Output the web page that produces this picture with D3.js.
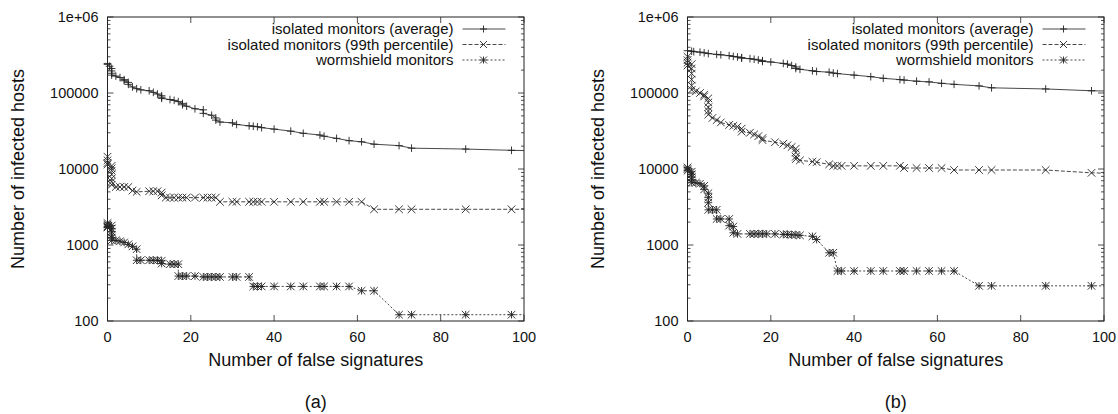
<!DOCTYPE html>
<html>
<head>
<meta charset="utf-8">
<script src="https://cdn.jsdelivr.net/npm/d3@7"></script>
<style>
  body { margin: 0; background: #fff; }
  text { font-family: "Liberation Sans", Arial, Helvetica, sans-serif; fill: #111; }
</style>
</head>
<body>
<svg id="chart" width="1118" height="414"></svg>
<script>
// series values: [false signatures, infected hosts]
var avgA = [[0,245000],[0,238000],[0.5,225000],[1,210000],[1,195000],[1,182000],[1,172000],[2,167000],[3,160000],[4,150000],[4,145000],[5,138000],[5,130000],[6,120000],[7,114000],[8,110000],[10,107000],[11,102000],[12,97000],[13,92000],[13,88000],[13,85000],[15,82000],[16,80000],[17,77000],[18,73000],[18,70000],[19,67000],[21,62000],[23,60000],[23,54000],[25,51000],[26,47000],[26,44000],[27,41500],[30,40500],[31,38500],[34,37000],[35,36500],[36,36000],[37,35000],[40,33500],[44,31500],[47,29500],[51,28000],[52,27000],[55,25300],[58,23600],[61,22800],[64,21200],[70,20300],[73,18800],[86,18300],[97,17600],[105,17300]];
var p99A = [[0,14500],[0,13000],[0,12000],[0,11500],[1,11000],[1,10200],[1,9500],[1,8500],[1,7500],[1,6800],[1,6200],[2,5800],[3,5800],[4,5800],[5,5800],[6,5200],[7,5000],[10,5100],[11,5100],[12,5100],[13,4900],[13,4500],[14,4200],[15,4200],[16,4200],[17,4200],[18,4200],[19,4200],[21,4200],[23,4200],[24,4200],[25,4200],[26,4200],[27,3700],[30,3700],[31,3700],[34,3700],[35,3700],[36,3700],[37,3700],[40,3700],[44,3700],[47,3700],[51,3700],[52,3700],[55,3700],[58,3700],[61,3700],[64,2950],[70,2950],[73,2950],[86,2950],[97,2950],[105,2950]];
var wsA = [[0,1950],[0,1850],[0,1750],[0,1700],[1,1800],[1,1650],[1,1500],[1,1350],[1,1250],[1,1150],[2,1150],[3,1120],[4,1080],[5,1020],[6,960],[7,880],[7,630],[8,630],[10,630],[11,630],[12,630],[13,620],[13,570],[15,560],[16,560],[17,560],[17,390],[18,390],[19,390],[21,390],[23,380],[24,380],[25,380],[26,380],[27,380],[30,380],[31,380],[34,380],[35,285],[36,285],[37,285],[40,285],[44,285],[47,285],[51,285],[52,285],[55,285],[58,285],[61,250],[64,250],[70,121],[73,121],[86,121],[97,121],[105,121]];

var avgB = [[0,360000],[1,355000],[1.5,350000],[3,345000],[4,338000],[5,330000],[7,322000],[8,318000],[10,310000],[11,303000],[12,298000],[13,292000],[13,288000],[15,283000],[16,278000],[17,272000],[18,266000],[18,260000],[20,256000],[23,245000],[24,240000],[25,230000],[26,220000],[26,210000],[27,205000],[30,196000],[31,192000],[34,188000],[35,183000],[36,180000],[40,172000],[44,164000],[47,156000],[51,150000],[52,148000],[55,143000],[58,140000],[61,134000],[64,130000],[70,124000],[73,117000],[86,113000],[97,107000],[105,105000]];
var p99B = [[0,300000],[0,270000],[0,250000],[0,230000],[1,240000],[1,210000],[1,180000],[1,150000],[1,125000],[1,110000],[2,105000],[3,100000],[4,95000],[4,90000],[5,85000],[5,75000],[5,65000],[5,58000],[5,52000],[6,47000],[7,44000],[8,41000],[10,38000],[11,37000],[12,36000],[13,34000],[13,31000],[15,30000],[16,28500],[17,27000],[18,25500],[18,24000],[21,22500],[23,21500],[24,20500],[25,19500],[26,18500],[26,16500],[26,14500],[26,13500],[27,13000],[30,12500],[31,12300],[34,11500],[35,11000],[36,11000],[37,11000],[40,11000],[44,11000],[47,11000],[51,11000],[52,10300],[55,10300],[58,10300],[61,10300],[64,9700],[70,9700],[73,9700],[86,9700],[97,8900],[105,8700]];
var wsB = [[0,10500],[0,10000],[0,9500],[1,9200],[1,8500],[1,7800],[1,7200],[1,6600],[2,6600],[3,6400],[4,6000],[4,5400],[5,4800],[5,4200],[5,3600],[5,2900],[6,2900],[7,2900],[7,2200],[8,2200],[10,2200],[10,1800],[11,1750],[11,1450],[12,1400],[15,1400],[16,1400],[17,1400],[18,1400],[19,1400],[21,1400],[23,1380],[24,1380],[25,1360],[26,1360],[27,1340],[30,1300],[31,1180],[34,790],[35,790],[36,455],[37,455],[40,455],[44,455],[47,455],[51,455],[52,455],[55,455],[58,455],[61,455],[64,455],[70,290],[73,290],[86,290],[97,290],[105,290]];

var legendLabels = ["isolated monitors (average)", "isolated monitors (99th percentile)", "wormshield monitors"];
var xTicks = [0, 20, 40, 60, 80, 100];
var yTicks = [100, 1000, 10000, 100000, 1000000];
var yTickLabels = ["100", "1000", "10000", "100000", "1e+06"];
var panelLabels = ["(a)", "(b)"];

var width = 416.5, height = 304;
var svg = d3.select("#chart");

var xScale = d3.scaleLinear().domain([0, 100]).range([0, width]);
var yScale = d3.scaleLog().domain([100, 1000000]).range([height, 0]);

var styles = [
  { dash: null, mark: "plus" },
  { dash: "4,2", mark: "cross" },
  { dash: "2,2", mark: "star" }
];

function marker(sel, kind, s) {
  var p = "";
  if (kind === "plus" || kind === "star") p += `M${-s},0H${s}M0,${-s}V${s}`;
  if (kind === "cross" || kind === "star") p += `M${-s},${-s}L${s},${s}M${-s},${s}L${s},${-s}`;
  sel.attr("d", p);
}

function drawPanel(ox, oy, series, label, idx) {
  var g = svg.append("g").attr("transform", `translate(${ox},${oy})`);

  g.append("clipPath").attr("id", "clip" + idx)
    .append("rect").attr("width", width).attr("height", height);

  // minor + major y ticks, both sides
  var minor = [];
  for (var d = 100; d < 1000000; d *= 10)
    for (var k = 2; k <= 9; k++) minor.push(d * k);
  g.selectAll(".ymin").data(minor).enter().append("path")
    .attr("d", v => `M0,${yScale(v)}h3M${width},${yScale(v)}h-3`)
    .attr("stroke", "#222").attr("stroke-width", 0.8);
  g.selectAll(".ymaj").data(yTicks).enter().append("path")
    .attr("d", v => `M0,${yScale(v)}h6M${width},${yScale(v)}h-6`)
    .attr("stroke", "#222").attr("stroke-width", 0.8);
  g.selectAll(".xmaj").data(xTicks).enter().append("path")
    .attr("d", v => `M${xScale(v)},${height}v-6M${xScale(v)},0v6`)
    .attr("stroke", "#222").attr("stroke-width", 0.8);

  g.selectAll(".ylab").data(yTicks).enter().append("text")
    .attr("x", -9).attr("y", v => yScale(v)).attr("dy", "0.35em")
    .attr("text-anchor", "end").style("font-size", "14.5px")
    .text((v, i) => yTickLabels[i]);
  g.selectAll(".xlab").data(xTicks).enter().append("text")
    .attr("x", v => xScale(v)).attr("y", height + 21)
    .attr("text-anchor", "middle").style("font-size", "14.5px")
    .text(v => v);

  g.append("text").attr("x", width / 2).attr("y", height + 44.5)
    .attr("text-anchor", "middle").style("font-size", "18px")
    .text("Number of false signatures");
  g.append("text").attr("transform", "rotate(-90)")
    .attr("x", -height / 2).attr("y", -84)
    .attr("text-anchor", "middle").style("font-size", "18px")
    .text("Number of infected hosts");
  g.append("text").attr("x", width / 2).attr("y", height + 87)
    .attr("text-anchor", "middle").style("font-size", "18px")
    .text(label);

  var line = d3.line().x(d => xScale(d[0])).y(d => yScale(d[1]));

  series.forEach(function (data, i) {
    g.append("path").datum(data)
      .attr("clip-path", `url(#clip${idx})`)
      .attr("d", line).attr("fill", "none")
      .attr("stroke", "#333").attr("stroke-width", 0.9)
      .attr("stroke-dasharray", styles[i].dash);
    g.selectAll(".m" + i).data(data.filter(d => d[0] <= 100)).enter()
      .append("path")
      .attr("transform", d => `translate(${xScale(d[0])},${yScale(d[1])})`)
      .call(marker, styles[i].mark, 3.8)
      .attr("stroke", "#222").attr("stroke-width", 0.9).attr("fill", "none");
  });

  // legend
  legendLabels.forEach(function (t, i) {
    var ly = 12 + i * 15.5;
    g.append("text").attr("x", 346).attr("y", ly).attr("dy", "0.35em")
      .attr("text-anchor", "end").style("font-size", "15px").text(t);
    g.append("path").attr("d", `M355,${ly}H398`)
      .attr("stroke", "#333").attr("stroke-width", 0.9)
      .attr("stroke-dasharray", styles[i].dash);
    g.append("path").attr("transform", `translate(376,${ly})`)
      .call(marker, styles[i].mark, 3.5)
      .attr("stroke", "#222").attr("stroke-width", 0.9).attr("fill", "none");
  });

  g.append("rect").attr("width", width).attr("height", height)
    .attr("fill", "none").attr("stroke", "#222").attr("stroke-width", 1);
}

drawPanel(107.5, 17, [avgA, p99A, wsA], panelLabels[0], 0);
drawPanel(687.5, 17, [avgB, p99B, wsB], panelLabels[1], 1);
</script>
</body>
</html>
